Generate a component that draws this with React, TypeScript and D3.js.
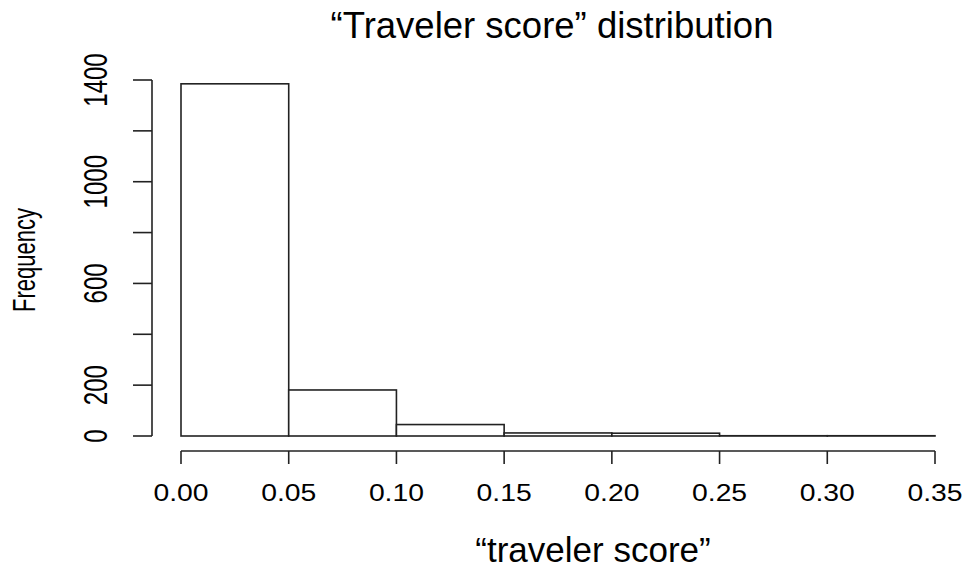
import React from "react";
import * as d3 from "d3";

const binStarts = [0.0, 0.05, 0.1, 0.15, 0.2, 0.25, 0.3];
const binWidth = 0.05;
const counts = [1385, 181, 45, 12, 11, 1, 1];
const xTickValues = [0.0, 0.05, 0.1, 0.15, 0.2, 0.25, 0.3, 0.35];
const yTickValues = [0, 200, 400, 600, 800, 1000, 1200, 1400];
const yLabelValues = [0, 200, 600, 1000, 1400];
const title = "\u201CTraveler score\u201D distribution";
const xTitle = "\u201Ctraveler score\u201D";
const yTitle = "Frequency";

const W = 967;
const H = 571;
const FONT = "'Liberation Sans', Arial, sans-serif";
const INK = "#222";

export default function App() {
  const x = d3.scaleLinear().domain([0, 0.35]).range([181, 935]);
  const y = d3.scaleLinear().domain([0, 1400]).range([436, 80]);
  const axisX = 152;
  const axisY = 451;

  return (
    <svg
      width={W}
      height={H}
      viewBox={`0 0 ${W} ${H}`}
      style={{ position: "absolute", left: 0, top: 0, background: "#fff" }}
      fontFamily={FONT}
    >
      <rect x={0} y={0} width={W} height={H} fill="#fff" />
      {/* title */}
      <text x={552} y={38} textAnchor="middle" fontSize={36.5} fill="#000">
        {title}
      </text>
      {/* bars */}
      {binStarts.map((b, i) => (
        <rect
          key={i}
          x={x(b)}
          y={y(counts[i])}
          width={x(b + binWidth) - x(b)}
          height={y(0) - y(counts[i])}
          fill="#fff"
          stroke={INK}
          strokeWidth={1.6}
        />
      ))}
      {/* y axis */}
      <line x1={axisX} x2={axisX} y1={y(0)} y2={y(1400)} stroke={INK} strokeWidth={1.6} />
      {yTickValues.map((v) => (
        <line key={v} x1={axisX - 19} x2={axisX} y1={y(v)} y2={y(v)} stroke={INK} strokeWidth={1.6} />
      ))}
      {yLabelValues.map((v) => (
        <text
          key={v}
          transform={`translate(107,${y(v)}) scale(1.35,1) rotate(-90)`}
          textAnchor="middle"
          fontSize={24}
          fill="#000"
        >
          {v}
        </text>
      ))}
      <text
        transform={`translate(35,260) scale(1.4,1) rotate(-90)`}
        textAnchor="middle"
        fontSize={22}
        fill="#000"
      >
        {yTitle}
      </text>
      {/* x axis */}
      <line x1={x(0)} x2={x(0.35)} y1={axisY} y2={axisY} stroke={INK} strokeWidth={1.6} />
      {xTickValues.map((v) => (
        <line key={v} x1={x(v)} x2={x(v)} y1={axisY} y2={axisY + 13} stroke={INK} strokeWidth={1.6} />
      ))}
      {xTickValues.map((v) => (
        <text
          key={v}
          transform={`translate(${x(v)},500.5) scale(1.18,1)`}
          textAnchor="middle"
          fontSize={24}
          fill="#000"
        >
          {d3.format(".2f")(v)}
        </text>
      ))}
      <text x={593} y={562} textAnchor="middle" fontSize={35} fill="#000">
        {xTitle}
      </text>
    </svg>
  );
}
